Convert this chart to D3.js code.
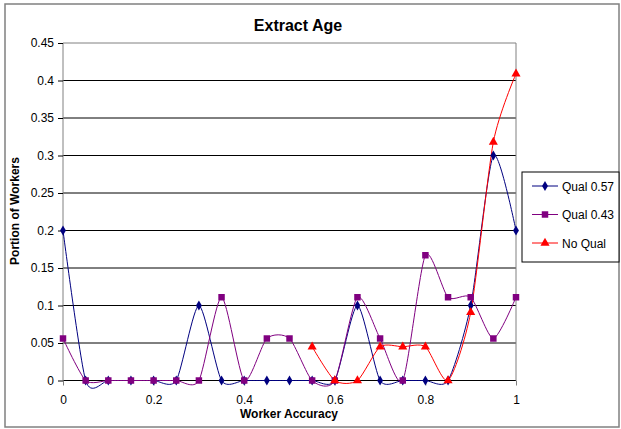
<!DOCTYPE html>
<html>
<head>
<meta charset="UTF-8" />
<script src="https://d3js.org/d3.v7.min.js"></script>
<style>
  body { margin: 0; background: #fff; }
  svg { font-family: "Liberation Sans", Arial, sans-serif; }
</style>
</head>
<body>
<svg width="621" height="429"></svg>
<script>
// worker accuracy buckets
const accuracy = [0, 0.05, 0.1, 0.15, 0.2, 0.25, 0.3, 0.35, 0.4, 0.45, 0.5,
                  0.55, 0.6, 0.65, 0.7, 0.75, 0.8, 0.85, 0.9, 0.95, 1];
const qual57 = [0.2, 0, 0, 0, 0, 0, 0.1, 0, 0, 0, 0,
                0, 0, 0.1, 0, 0, 0, 0, 0.1, 0.3, 0.2];
const qual43 = [0.056, 0, 0, 0, 0, 0, 0, 0.111, 0, 0.056, 0.056,
                0, 0, 0.111, 0.056, 0, 0.167, 0.111, 0.111, 0.056, 0.111];
const noQual = [null, null, null, null, null, null, null, null, null, null, null,
                0.045, 0, 0, 0.045, 0.045, 0.045, 0, 0.091, 0.318, 0.409];
const yTicks = [0, 0.05, 0.1, 0.15, 0.2, 0.25, 0.3, 0.35, 0.4, 0.45];
const xTicks = [0, 0.2, 0.4, 0.6, 0.8, 1];

const series = [
  { name: "Qual 0.57", values: qual57, color: "#000080", marker: d3.symbolDiamond, size: 30 },
  { name: "Qual 0.43", values: qual43, color: "#800080", marker: d3.symbolSquare, size: 42 },
  { name: "No Qual",   values: noQual, color: "#ff0000", marker: d3.symbolTriangle, size: 36 }
];

const svg = d3.select("svg");
const plotL = 63, plotR = 516, plotT = 43, plotB = 380.5;

const x = d3.scaleLinear().domain([0, 1]).range([plotL, plotR]);
const y = d3.scaleLinear().domain([0, 0.45]).range([plotB, plotT]);

// outer chart border
svg.append("rect")
  .attr("x", 5).attr("y", 4).attr("width", 614).attr("height", 423)
  .attr("fill", "#fff").attr("stroke", "#808080").attr("stroke-width", 1.5);

// title
svg.append("text")
  .attr("x", 298).attr("y", 31)
  .attr("text-anchor", "middle")
  .attr("font-size", 16).attr("font-weight", "bold")
  .text("Extract Age");

// gridlines
svg.append("g")
  .selectAll("line")
  .data(yTicks.filter(d => d < 0.45))
  .join("line")
    .attr("x1", plotL).attr("x2", plotR)
    .attr("y1", d => y(d)).attr("y2", d => y(d))
    .attr("stroke", "#000").attr("stroke-width", 1);

// plot area border (top, right, left axis)
svg.append("path")
  .attr("d", `M${plotL},${plotB}V${plotT}H${plotR}V${plotB}`)
  .attr("fill", "none").attr("stroke", "#808080").attr("stroke-width", 1);

// y axis
const yAxis = svg.append("g")
  .attr("transform", `translate(${plotL},0)`)
  .call(d3.axisLeft(y).tickValues(yTicks).tickSize(5).tickPadding(4).tickFormat(d3.format("")));
yAxis.select(".domain").remove();
yAxis.selectAll(".tick line").attr("stroke", "#000");
yAxis.selectAll(".tick text")
  .attr("font-family", "Liberation Sans, Arial, sans-serif")
  .attr("font-size", 12).attr("fill", "#000");

// x axis
const xAxis = svg.append("g")
  .attr("transform", `translate(0,${plotB})`)
  .call(d3.axisBottom(x).tickValues(xTicks).tickSize(5).tickPadding(10).tickFormat(d3.format("")));
xAxis.select(".domain").remove();
xAxis.selectAll(".tick line").attr("stroke", "#808080");
xAxis.selectAll(".tick text")
  .attr("font-family", "Liberation Sans, Arial, sans-serif")
  .attr("font-size", 12).attr("fill", "#000");

// axis titles
svg.append("text")
  .attr("x", 289).attr("y", 418)
  .attr("text-anchor", "middle")
  .attr("font-size", 12).attr("font-weight", "bold")
  .text("Worker Accuracy");

svg.append("text")
  .attr("transform", "translate(19,211) rotate(-90)")
  .attr("text-anchor", "middle")
  .attr("font-size", 12).attr("font-weight", "bold")
  .text("Portion of Workers");

// series lines (Excel-like smoothing)
const line = d3.line()
  .defined(d => d[1] != null)
  .x(d => x(d[0]))
  .y(d => y(d[1]))
  .curve(d3.curveCardinal.tension(0.3));

series.forEach(s => {
  const pts = accuracy.map((a, i) => [a, s.values[i]]);
  svg.append("path")
    .datum(pts)
    .attr("d", line)
    .attr("fill", "none")
    .attr("stroke", s.color)
    .attr("stroke-width", 1);
});

series.forEach(s => {
  const pts = accuracy.map((a, i) => [a, s.values[i]]).filter(d => d[1] != null);
  svg.append("g")
    .selectAll("path")
    .data(pts)
    .join("path")
      .attr("transform", d => `translate(${x(d[0])},${y(d[1])})`)
      .attr("d", d3.symbol().type(s.marker).size(s.size))
      .attr("fill", s.color);
});

// legend
const legend = svg.append("g");
legend.append("rect")
  .attr("x", 522).attr("y", 172).attr("width", 97).attr("height", 90)
  .attr("fill", "#fff").attr("stroke", "#000").attr("stroke-width", 1);

const entry = legend.selectAll("g.entry")
  .data(series)
  .join("g")
    .attr("class", "entry")
    .attr("transform", (d, i) => `translate(0,${186 + i * 28.5})`);
entry.append("line")
  .attr("x1", 532).attr("x2", 558)
  .attr("stroke", d => d.color).attr("stroke-width", 1);
entry.append("path")
  .attr("transform", "translate(545,0)")
  .attr("d", d => d3.symbol().type(d.marker).size(d.size)())
  .attr("fill", d => d.color);
entry.append("text")
  .attr("x", 562).attr("y", 4.5)
  .attr("font-size", 12)
  .text(d => d.name);
</script>
</body>
</html>
